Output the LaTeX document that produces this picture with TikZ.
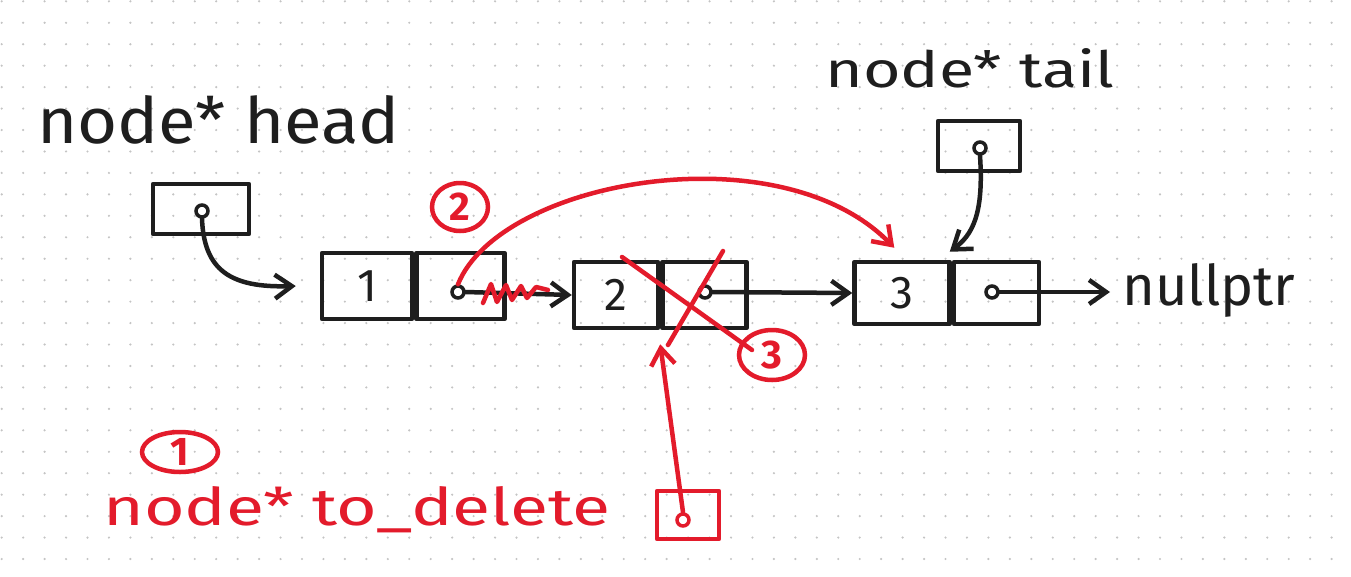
\documentclass[tikz,border=0pt]{standalone}
\usepackage{fontspec}
\setmainfont{Fira Sans}
\usetikzlibrary{arrows.meta,shapes.geometric}
\definecolor{ink}{HTML}{1E1E1E}
\definecolor{pen}{HTML}{E31B2B}
\definecolor{dotc}{HTML}{C4C4C4}
\tikzset{
  stroke/.style={line width=4.5pt, line cap=round, line join=round},
  cell/.style={draw=ink, stroke, minimum height=66pt, inner sep=0pt, font=\fontsize{46}{50}\selectfont, text=ink},
  ptrdot/.style={circle, draw=#1, line width=3.5pt, minimum size=12pt, inner sep=0pt},
  ptrbox/.style={draw=#1, stroke, inner sep=0pt},
  barb/.style={-{Straight Barb[length=17pt,width=24pt]}},
  inktext/.style={text=ink, inner sep=0pt, anchor=base west},
  pentext/.style={text=pen, inner sep=0pt, anchor=base west},
  badge/.style={draw=pen, line width=4.5pt, ellipse, inner sep=0pt, text=pen, font=\fontsize{40}{42}\selectfont\bfseries},
}
\begin{document}
\begin{tikzpicture}[x=1pt,y=-1pt]
\useasboundingbox (0,0) rectangle (1351,576);
\fill[white] (0,0) rectangle (1351,576);
\foreach \i in {0,...,62}{\foreach \j in {0,...,26}{\fill[dotc] (1.7+21.45*\i,1.3+21.45*\j) circle (1.2pt);}}

% texts
\node[inktext, font=\fontsize{64}{70}\selectfont\addfontfeature{FakeStretch=1.075}] (headlbl) at (37,143) {node* head};
\node[inktext, font=\fontsize{50}{56}\selectfont\addfontfeature{FakeStretch=1.29}] (taillbl) at (825,87) {node* tail};
\node[inktext, font=\fontsize{56}{60}\selectfont] (nullptr) at (1122,305) {nullptr};
\node[pentext, font=\fontsize{52}{56}\selectfont\addfontfeature{FakeStretch=1.34}] (dellbl) at (103,525) {node* to\_delete};

% pointer variables
\node[ptrbox=ink, minimum width=96pt, minimum height=50pt] (headbox) at (201,209) {};
\node[ptrdot=ink] (headdot) at (202,211) {};
\node[ptrbox=ink, minimum width=82pt, minimum height=50pt] (tailbox) at (979,146) {};
\node[ptrdot=ink] (taildot) at (980,148) {};
\node[ptrbox=pen, minimum width=62pt, minimum height=48pt] (delbox) at (688,515) {};
\node[ptrdot=pen] (deldot) at (683,520) {};

% list nodes
\node[cell, minimum width=90pt] (n1v) at (367,286) {1};
\node[cell, minimum width=88pt, anchor=west] (n1p) at (n1v.east) {};
\node[ptrdot=ink] (n1d) at (458,292) {};
\node[cell, minimum width=84pt] (n2v) at (616,295) {2};
\node[cell, minimum width=84pt, anchor=west] (n2p) at (n2v.east) {};
\node[ptrdot=ink] (n2d) at (705,292) {};
\node[cell, minimum width=95pt, minimum height=62pt] (n3v) at (902,293) {3};
\node[cell, minimum width=85pt, minimum height=62pt, anchor=west] (n3p) at (n3v.east) {};
\node[ptrdot=ink] (n3d) at (992,292) {};

% black connectors
\draw[ink, stroke, barb] (headdot.south) .. controls (204,270) and (230,288) .. ([xshift=-24pt]n1v.west);
\draw[ink, stroke, barb] (n1d.east) -- (n2v.west);
\draw[ink, stroke, barb] (n2d.east) -- (n3v.west);
\draw[ink, stroke, barb] (n3d.east) -- ([xshift=-12pt]nullptr.west |- n3d);
\draw[ink, stroke, barb] (taildot.south) .. controls (984,215) and (972,235) .. ([xshift=-2pt,yshift=8pt]n3p.north west);

% red marks
\coordinate (arctip) at ([xshift=42pt,yshift=12pt]n3v.north west);
\draw[pen, stroke, barb] (n1d.north) .. controls (500,180) and (780,130) .. (arctip);
\draw[pen, stroke] (483,303) -- (491,284) -- (497,302) -- (506,285) -- (512,300) -- (521,286) -- (527,298) -- (536,287) -- (548,290);
\draw[pen, stroke] (622,257) -- (752,350);
\draw[pen, stroke] (723,251) -- (668,345);
\draw[pen, stroke, barb] (deldot.north) -- ([yshift=-14pt]n2v.south east);
\node[badge, minimum width=56pt, minimum height=48pt] (b2) at (460,207) {2};
\node[badge, minimum width=66pt, minimum height=50pt] (b3) at (772,355) {3};
\node[badge, minimum width=76pt, minimum height=40pt] (b1) at (180,452) {1};
\end{tikzpicture}
\end{document}
